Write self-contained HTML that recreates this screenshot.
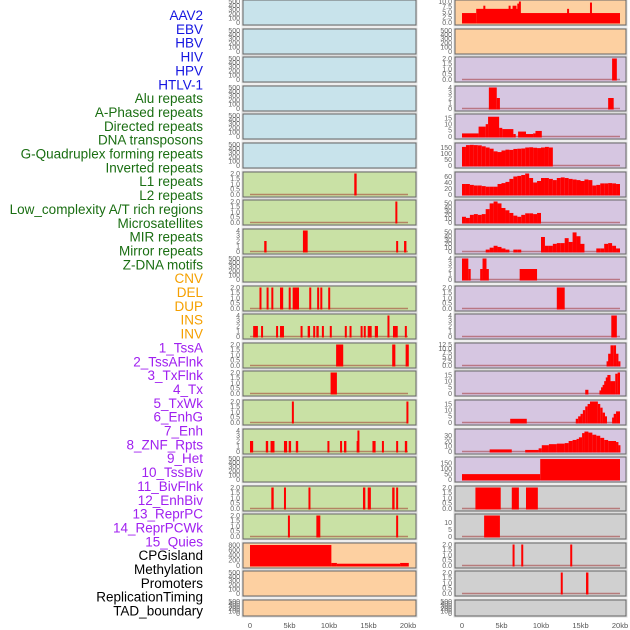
<!DOCTYPE html>
<html><head><meta charset="utf-8"><style>
body{margin:0;background:#fff;width:630px;height:630px;overflow:hidden}
svg{display:block;font-family:"Liberation Sans",sans-serif}
</style></head><body>
<svg id="chart" width="630" height="630" viewBox="0 0 630 630"></svg>
<script>
const labels=["AAV2","EBV","HBV","HIV","HPV","HTLV-1","Alu repeats","A-Phased repeats","Directed repeats","DNA transposons","G-Quadruplex forming repeats","Inverted repeats","L1 repeats","L2 repeats","Low_complexity A/T rich regions","Microsatellites","MIR repeats","Mirror repeats","Z-DNA motifs","CNV","DEL","DUP","INS","INV","1_TssA","2_TssAFlnk","3_TxFlnk","4_Tx","5_TxWk","6_EnhG","7_Enh","8_ZNF_Rpts","9_Het","10_TssBiv","11_BivFlnk","12_EnhBiv","13_ReprPC","14_ReprPCWk","15_Quies","CPGisland","Methylation","Promoters","ReplicationTiming","TAD_boundary"];
const labelColors=[].concat(Array(6).fill("#1515e0"),Array(13).fill("#1a6e12"),Array(5).fill("#f5a000"),Array(15).fill("#a020f0"),Array(5).fill("#000"));
const leftBg=["b","b","b","b","b","b","g","g","g","g","g","g","g","g","g","g","g","g","g","o","o","o"];
const rightBg=["o","o","p","p","p","p","p","p","p","p","p","p","p","p","p","p","p","y","y","y","y","y"];
const leftTicks=[null,null,null,null,null,null,[0,0.5,1,1.5,2],[0,0.5,1,1.5,2],[0,1,2,3,4],null,[0,0.5,1,1.5,2],[0,1,2,3,4],[0,0.5,1,1.5,2],[0,0.5,1,1.5,2],[0,0.5,1,1.5,2],[0,1,2,3,4],null,[0,0.5,1,1.5,2],[0,0.5,1,1.5,2],[0,200,400,600,800],null,null];
const rightTicks=[[0,2.5,5,7.5,10],null,[0,0.5,1,1.5,2],[0,1,2,3,4],[0,5,10,15],[0,50,100,150],[0,20,40,60],[0,10,20,30,40,50],[0,10,20,30,40,50],[0,1,2,3,4],[0,0.5,1,1.5,2],[0,1,2,3,4],[0,2.5,5,7.5,10,12.5],[0,5,10,15],[0,5,10,15],[0,10,20,30],[0,50,100,150],[0,0.5,1,1.5,2],[0,5,10],[0,0.5,1,1.5,2],[0,0.5,1,1.5,2],null];
const leftMax=[500,500,500,500,500,500,2,2,4,500,2,4,2,2,2,4,500,2,2,820,500,500];
const rightMax=[10,500,2,4,17,175,70,55,55,4,2,4,12.5,17,17,40,195,2,15,2,2,500];
const leftSegs=[[],[],[],[],[],[],
[[13.2,13.5,2]],
[[18.4,18.6,2]],
[[1.8,2.1,2],[6.7,7.3,4],[18.5,18.7,2],[19.5,19.8,2]],
[],
[[1.2,1.4,2],[2.1,2.3,2],[2.7,2.9,2],[3.8,4.2,2],[4.9,5.1,2],[5.4,6.2,2],[7.5,7.7,2],[8.5,8.7,2],[8.9,9.1,2],[9.9,10.1,2]],
[[0.4,1.0,2],[1.4,1.6,2],[3.3,3.5,2],[3.8,4.3,2],[6.4,6.6,2],[7.3,7.6,2],[8.0,8.2,2],[8.4,8.7,2],[9.1,9.3,2],[10.1,10.3,2],[12.0,12.2,2],[12.6,12.8,2],[14.0,14.2,2],[14.4,14.6,2],[14.9,15.4,2],[15.8,16.2,2],[17.4,17.6,4],[18.1,18.7,2],[19.6,19.8,2]],
[[10.9,11.8,2],[18.0,18.4,2],[19.7,20.1,2]],
[[10.2,11.0,2]],
[[5.3,5.5,2],[19.8,20.0,2]],
[[0,0.4,2],[2.0,2.3,2],[2.6,3.1,2],[4.3,4.7,2],[4.9,5.2,2],[5.8,6.1,2],[9.8,10.0,2],[11.4,11.6,2],[11.9,12.2,2],[13.5,13.7,2],[13.6,13.8,4],[15.5,15.9,2],[16.7,16.9,2],[18.5,18.7,2],[19.6,19.9,2]],
[],
[[2.7,3.0,2],[4.3,4.4,2],[7.4,7.6,2],[14.3,14.6,2],[14.9,15.3,2],[18.0,18.3,2],[18.5,18.7,2]],
[[4.8,5.0,2],[8.4,8.9,2],[18.5,18.7,2]],
[[0,10.3,800],[10.3,11.0,100],[11.0,19.0,70],[19.0,20.1,100]],
[],[]];
const rightSegs=[
[[0,1.8,4.5],[1.8,7.4,6.5],[2.7,2.9,8],[5.9,6.1,8],[6.4,6.9,8],[7.0,7.2,9],[7.2,7.4,10],[7.4,20,4.5],[13.3,13.5,6.5],[16.2,16.4,9.5]],
[],
[[19.0,19.6,2]],
[[3.4,4.4,4],[4.4,4.8,2],[18.5,19.2,2]],
[[0,2.1,2.5],[2.1,3.0,8],[3.0,3.3,10],[3.3,4.7,16],[4.7,5.1,7],[5.1,6.5,6],[6.5,6.8,2],[7.1,8.1,4],[8.1,9.0,2],[9.0,9.3,2.5],[9.3,10.1,4.5]],
[],[],[],[],
[[0,0.8,4],[0.8,1.1,2],[2.3,2.6,2],[2.6,3.1,4],[3.1,3.4,2],[7.3,9.5,2]],
[[12.0,13.0,2]],
[[18.9,19.6,4]],
[[18.3,18.5,2.5],[18.5,18.8,7],[18.8,19.2,12],[19.2,19.5,12],[19.5,19.8,7],[19.8,20,2.5]],
[[15.6,16.0,3],[17.4,17.6,2.5],[17.6,17.8,5],[17.8,18.0,7],[18.0,18.2,10],[18.2,18.4,13],[18.4,18.8,15],[18.8,19.4,10],[19.4,19.7,16],[19.7,20,17]],
[[6.1,8.2,3],[14.4,14.7,3],[14.7,15.0,5],[15.0,15.3,7],[15.3,15.6,10],[15.6,15.9,13],[15.9,16.2,15],[16.2,17.2,17],[17.2,17.5,15],[17.5,17.8,12],[17.8,18.1,8],[18.1,18.3,5],[19.0,19.2,4],[19.2,19.5,7],[19.5,20,9]],
[[3.5,6.3,4],[8.0,9.7,3],[9.7,10.1,6],[10.1,11,12],[11,12,14],[12,13,15],[13,13.5,16],[13.5,14,20],[14,14.5,22],[14.5,14.8,24],[14.8,15.2,27],[15.2,15.5,35],[15.5,16,38],[16,16.5,36],[16.5,17,32],[17,17.5,30],[17.5,18,26],[18,18.5,22],[18.5,19.5,20],[19.5,19.8,18],[19.8,20,12]],
[[0,9.9,50],[9.9,20,190]],
[[1.7,4.9,2],[6.3,7.2,2],[8.1,9.6,2]],
[[2.8,4.8,15]],
[[6.4,6.6,2],[7.5,7.7,2],[13.7,13.9,2]],
[[12.5,12.7,2],[15.7,16.0,2]],
[]];
const profileRows=[5,6,7,8];
const profileStart=[0,0,0,3];
const profileVals=[
[155,170,172,170,168,160,150,140,118,112,125,132,130,138,140,142,150,152,148,145,150,155,150],
[35,35,32,30,30,28,26,26,26,35,38,42,52,60,62,65,70,55,40,45,55,55,52,48,55,57,55,52,50,48,45,50,48,30,32,37,37,38,37,35],
[15,12,20,22,20,22,35,50,55,50,38,32,25,18,15,20,24,24,22,25],
[5,10,15,12,8,5,0,5,5,0,0,0,0,0,38,15,15,20,22,22,35,25,50,40,20,0,0,0,8,8,20,22,15,8]];
const rowTops=[0,29,57,86,114,143,172,200,229,257,286,314,343,371,400,429,457,486,514,543,571,600];
const xTickVals=[0,5,10,15,20];
const xTickLabels=["0","5kb","10kb","15kb","20kb"];

const bgColors={b:"#c8e3eb",g:"#c9e1a5",o:"#fdd0a1",p:"#d6c6e1",y:"#d0d0d0"};
const svg=document.getElementById("chart");
const NS="http://www.w3.org/2000/svg";
function mk(tag,attrs,parent){const e=document.createElementNS(NS,tag);for(const k in attrs)e.setAttribute(k,attrs[k]);(parent||svg).appendChild(e);return e;}
const L0=250,R0=462,PXKB=7.9;
function xs(side,kb){return (side?R0:L0)+kb*PXKB;}

labels.forEach((t,i)=>{
  const el=mk("text",{x:203,y:20+i*13.85,"text-anchor":"end","font-size":"13.5",fill:labelColors[i]});
  el.textContent=t;
  
  
});

profileRows.forEach((r,j)=>{
  profileVals[j].forEach((v,k)=>{const s=profileStart[j]+k*0.5;if(v>0&&s<20)rightSegs[r].push([s,Math.min(20,s+0.5),v]);});
});

function panel(side,r){
  const top=rowTops[r],h=(r===21)?16:25;
  const x0=side?455:243,x1=side?626:416;
  const g=mk("g",{});
  
  
  mk("rect",{x:x0-0.5,y:top-0.5,width:x1-x0+1,height:h+1,fill:"none",stroke:"#ddd","stroke-width":2},g);
  mk("rect",{x:x0,y:top,width:x1-x0,height:h,fill:bgColors[(side?rightBg:leftBg)[r]],stroke:"#666","stroke-width":1},g);
  const ymax=(side?rightMax:leftMax)[r];
  const yb=top+h-2.5,yt=top+1.5;
  const ys=v=>yb-(v/ymax)*(yb-yt);
  let ticks=(side?rightTicks:leftTicks)[r];
  const empty=!ticks;
  if(empty)ticks=[0,100,200,300,400,500];
  const tx=side?452:240;
  ticks.forEach(v=>{
    const t=mk("text",{x:tx,y:ys(v)+2.3,"text-anchor":"end","font-size":"7",fill:"#666"},g);
    t.textContent=(ticks.some(q=>q%1))?v.toFixed(1):String(v);
    
    
  });
  if(r===21)return;
  const segs=(side?rightSegs:leftSegs)[r];
  if(segs.length){
    mk("line",{x1:xs(side,0),x2:xs(side,20),y1:yb,y2:yb,stroke:"rgba(150,20,20,0.45)","stroke-width":1.5},g);
  }
  segs.forEach(s=>{
    const xa=xs(side,s[0]),xb=xs(side,s[1]);
    const b=mk("rect",{x:xa,y:ys(s[2]),width:Math.max(2,xb-xa),height:yb-ys(s[2])+1,fill:"#ff0000"},g);
    
    
  });
}
for(let r=0;r<22;r++){panel(0,r);panel(1,r);}

[0,1].forEach(side=>{
  xTickVals.forEach((v,i)=>{
    const t=mk("text",{x:xs(side,v),y:628,"text-anchor":"middle","font-size":"7.5",fill:"#555"});
    t.textContent=xTickLabels[i];
    
    
  });
});
</script>
</body></html>
